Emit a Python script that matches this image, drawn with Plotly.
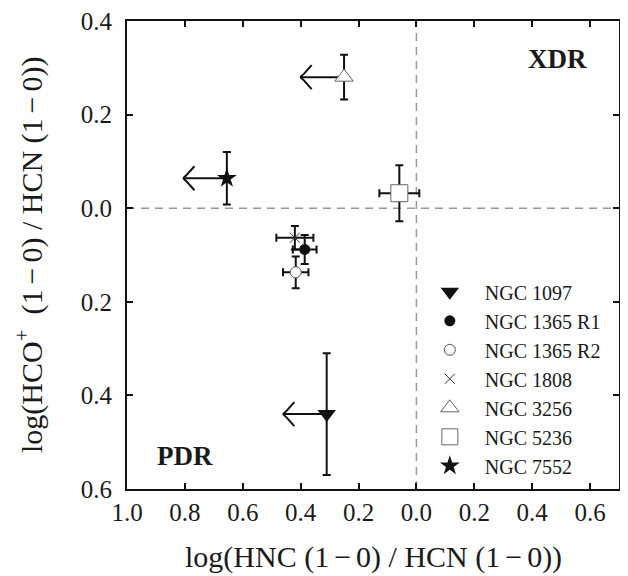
import plotly.graph_objects as go

# ---------------- data ----------------
names = ["NGC 1097", "NGC 1365 R1", "NGC 1365 R2", "NGC 1808",
         "NGC 3256", "NGC 5236", "NGC 7552"]
x_vals = [-0.31, -0.386, -0.417, -0.42, -0.25, -0.059, -0.655]
y_vals = [-0.44, -0.088, -0.137, -0.063, 0.28, 0.032, 0.064]
x_err = [0.0, 0.041, 0.044, 0.064, 0.0, 0.069, 0.0]
y_err = [0.13, 0.031, 0.034, 0.025, 0.048, 0.06, 0.056]
x_upper_limit = [True, False, False, False, True, False, True]

x_tickvals = [-1.0, -0.8, -0.6, -0.4, -0.2, 0.0, 0.2, 0.4, 0.6]
x_ticktext = ["1.0", "0.8", "0.6", "0.4", "0.2", "0.0", "0.2", "0.4", "0.6"]
y_tickvals = [-0.6, -0.4, -0.2, 0.0, 0.2, 0.4]
y_ticktext = ["0.6", "0.4", "0.2", "0.0", "0.2", "0.4"]

x_title = "log(HNC (1\u2006\u2212\u20060) / HCN (1\u2006\u2212\u20060))"
y_title = "log(HCO<sup>+</sup>  (1\u2006\u2212\u20060) / HCN (1\u2006\u2212\u20060))"

# ---------------- style ----------------
FONT = "Liberation Serif, Times New Roman, serif"
TXT = "#1a1a1a"
W, H = 620, 568          # page body adds an 8px margin
M = dict(l=119, r=9, t=13, b=87)
XR = [-1.0, 0.7]
YR = [-0.6, 0.4]
PW = W - M["l"] - M["r"]
PH = H - M["t"] - M["b"]
px_x = (XR[1] - XR[0]) / PW   # data units per px
px_y = (YR[1] - YR[0]) / PH
ARROW_LEN = 0.15

styles = {
    "NGC 1097":    dict(symbol="triangle-down", size=16, color="#111", line=dict(width=0)),
    "NGC 1365 R1": dict(symbol="circle", size=11, color="#111", line=dict(width=0)),
    "NGC 1365 R2": dict(symbol="circle", size=11, color="white", line=dict(width=1, color="#555")),
    "NGC 1808":    dict(symbol="x-thin", size=10, color="#333", line=dict(width=1, color="#333")),
    "NGC 3256":    dict(symbol="triangle-up", size=16, color="white", line=dict(width=1, color="#666")),
    "NGC 5236":    dict(symbol="square", size=17, color="white", line=dict(width=1, color="#666")),
    "NGC 7552":    dict(symbol="star", size=15, color="#111", line=dict(width=0)),
}

fig = go.Figure()

# arrows for upper limits (drawn first, beneath markers)
barb_px = [(0, 0), (3, 3), (7, 7.5), (11, 12)]
for n, x, y, lim in zip(names, x_vals, y_vals, x_upper_limit):
    if not lim:
        continue
    tip = x - ARROW_LEN
    fig.add_trace(go.Scatter(x=[x, tip], y=[y, y], mode="lines",
                             line=dict(color="#111", width=2),
                             showlegend=False, hoverinfo="skip"))
    bx = [tip + p[0] * px_x for p in reversed(barb_px)] + [tip + p[0] * px_x for p in barb_px[1:]]
    by = [y + p[1] * px_y for p in reversed(barb_px)] + [y - p[1] * px_y for p in barb_px[1:]]
    fig.add_trace(go.Scatter(x=bx, y=by, mode="lines",
                             line=dict(color="#111", width=2, shape="spline"),
                             showlegend=False, hoverinfo="skip"))

for n, x, y, ex, ey in zip(names, x_vals, y_vals, x_err, y_err):
    s = styles[n]
    fig.add_trace(go.Scatter(
        x=[x], y=[y], mode="markers", name=n,
        marker=dict(symbol=s["symbol"], size=s["size"], color=s["color"], line=s["line"]),
        error_x=dict(type="data", array=[ex], visible=ex > 0, color="#111", thickness=2, width=4),
        error_y=dict(type="data", array=[ey], visible=True, color="#111", thickness=2, width=4),
    ))

axis_common = dict(
    showgrid=False, zeroline=False, showline=True, linecolor="#111", linewidth=2,
    mirror="ticks", ticks="inside", ticklen=6, tickwidth=1.5, tickcolor="#111",
    tickfont=dict(family=FONT, size=25, color=TXT), automargin=False,
    ticklabeloverflow="allow",
)

fig.update_xaxes(range=XR, tickvals=x_tickvals, ticktext=x_ticktext, **axis_common)
fig.update_yaxes(range=YR, tickvals=y_tickvals, ticktext=y_ticktext,
                 ticklabelstandoff=8, **axis_common)

fig.add_annotation(text=x_title, x=0.5, y=-68 / PH, xref="paper", yref="paper",
                   xanchor="center", yanchor="middle", showarrow=False,
                   font=dict(family=FONT, size=30, color=TXT))
fig.add_annotation(text=y_title, x=-98 / PW, y=0.5, xref="paper", yref="paper",
                   xanchor="center", yanchor="middle", showarrow=False, textangle=-90,
                   font=dict(family=FONT, size=30, color=TXT))

fig.add_shape(type="line", xref="x", yref="paper", x0=0, x1=0, y0=0, y1=1,
              line=dict(color="#9a9a9a", width=1.5, dash="8px,6px"), layer="below")
fig.add_shape(type="line", xref="paper", yref="y", x0=0, x1=1, y0=0, y1=0,
              line=dict(color="#9a9a9a", width=1.5, dash="8px,6px"), layer="below")

fig.add_annotation(text="<b>XDR</b>", x=0.876, y=0.919, xref="paper", yref="paper",
                   xanchor="center", yanchor="middle",
                   showarrow=False, font=dict(family=FONT, size=27, color=TXT))
fig.add_annotation(text="<b>PDR</b>", x=0.118, y=0.0705, xref="paper", yref="paper",
                   xanchor="center", yanchor="middle",
                   showarrow=False, font=dict(family=FONT, size=27, color=TXT))

fig.update_layout(
    width=W, height=H, margin=M,
    paper_bgcolor="white", plot_bgcolor="white",
    font=dict(family=FONT, color=TXT),
    legend=dict(x=0.585, y=0.463, xanchor="left", yanchor="top",
                bgcolor="rgba(0,0,0,0)", font=dict(family=FONT, size=20, color=TXT),
                itemwidth=60),
)

fig.write_html("out.html")
